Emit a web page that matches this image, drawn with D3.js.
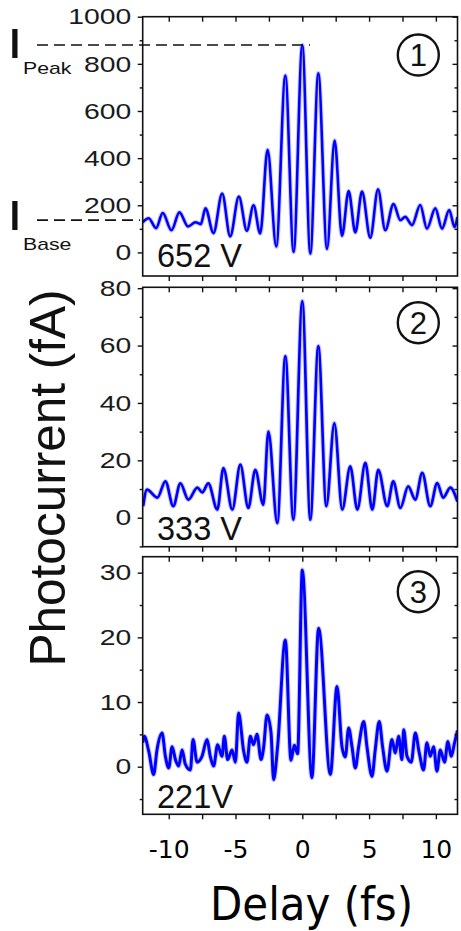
<!DOCTYPE html>
<html><head><meta charset="utf-8">
<script src="https://cdn.jsdelivr.net/npm/d3@7"></script>
<style>body{margin:0;background:#fff;} svg{display:block}</style>
</head><body>
<svg id="c" width="461" height="931"></svg>
<script>
// ---------- data ----------
const delay1 = [-11.95,-11.5,-10.95,-10.45,-9.8,-9.2,-8.55,-8.0,-7.6,-7.25,-6.65,-6.0,-5.4,-4.75,-4.15,-3.65,-3.15,-2.6,-1.95,-1.27,-0.65,0,0.6,1.2,1.85,2.42,2.97,3.47,3.97,4.47,5.09,5.67,6.21,6.83,7.34,7.71,8.21,8.83,9.33,9.96,10.46,11.0,11.4,11.62];
const current1 = [128,145,103,167,94,170,110,128,120,187,82,250,68,237,92,200,80,435,25,750,2,880,-5,760,15,475,70,260,85,258,62,268,94,205,137,151,116,201,101,187,101,180,108,150];

const delay2 = [-11.92,-11.63,-10.85,-10.25,-9.66,-9.13,-8.53,-7.86,-7.49,-7.04,-6.36,-5.91,-5.24,-4.64,-4.04,-3.52,-2.92,-2.54,-1.87,-1.27,-0.67,0,0.6,1.2,1.8,2.4,2.99,3.59,4.12,4.72,5.24,5.69,6.36,6.81,7.34,7.93,8.46,8.98,9.58,10.1,10.55,11.08,11.62];
const current2 = [4,9.8,7,12.7,4,12,6.3,10.5,8.8,12,2.8,17.3,2.8,18.5,3.4,16.7,4.5,30,-1.9,56.3,-0.7,75.5,-0.7,59.8,4,33,2.8,17.9,2.8,19.1,2.8,16.7,4,12.7,3.4,10.9,6.3,15.6,4,12.1,7,10.5,5.6];

const delay3 = [-11.95,-11.83,-11.5,-11.13,-10.88,-10.5,-10.25,-10.0,-9.75,-9.5,-9.26,-9.0,-8.76,-8.38,-8.18,-7.88,-7.51,-7.13,-6.89,-6.64,-6.34,-6.01,-5.84,-5.59,-5.26,-5.01,-4.77,-4.39,-4.14,-3.89,-3.65,-3.39,-3.09,-2.9,-2.64,-2.34,-2.15,-1.85,-1.27,-0.85,-0.6,-0.35,0,0.72,1.22,2.1,2.6,2.97,3.22,3.47,3.72,3.97,4.22,4.6,4.84,5.22,5.46,5.76,6.01,6.34,6.71,6.96,7.21,7.46,7.59,7.84,8.16,8.46,8.76,9.08,9.33,9.58,9.83,10.08,10.33,10.65,10.9,11.15,11.4,11.62];
const current3 = [3.7,4.7,2.4,-1.2,2.6,5.2,1.6,-0.2,3.1,1.1,0.1,2.6,0.4,-0.5,4.2,0.7,1.6,4.2,1.6,0.1,3.4,1.6,4.7,1.1,2.6,0.7,8.3,2.4,0.7,4.7,3.4,5.0,1.1,2.9,8.0,5.2,-2.0,3.1,19.6,1.0,3.3,2.0,30.4,-1.7,21.4,-1.2,12.4,3.1,1.5,6.0,3.1,-0.2,3.1,7.0,3.1,-1.5,2.6,7.0,3.1,-0.7,4.2,2.1,4.7,1.1,5.7,1.6,0.7,5.2,2.1,-0.5,3.7,1.6,3.1,-0.7,2.6,0.7,3.9,1.6,3.7,5.6];

const yTicks1 = [0,200,400,600,800,1000];
const yMinor1 = [100,300,500,700,900];
const yTicks2 = [0,20,40,60,80];
const yMinor2 = [-10,10,30,50,70];
const yTicks3 = [0,10,20,30];
const yMinor3 = [-5,5,15,25];
const xTicks = [-10,-7.5,-5,-2.5,0,2.5,5,7.5,10];
const xLabels = [-10,-5,0,5,10];
const voltages = ["652 V","333 V","221V"];
const panelNumbers = ["1","2","3"];
const peakLevel = 880, baseLevel = 137;

// ---------- layout ----------
const svg = d3.select("#c");
const X0 = 142.7, X1 = 457.5;
const x = d3.scaleLinear().domain([-11.95, 11.62]).range([X0, X1]);

const panels = [
  {delay: delay1, cur: current1, top: 16.7, bottom: 276, domain: [-100, 1000], major: yTicks1, minor: yMinor1, sw: 2.6},
  {delay: delay2, cur: current2, top: 287.3, bottom: 546.7, domain: [-10.1, 80.3], major: yTicks2, minor: yMinor2, sw: 2.7},
  {delay: delay3, cur: current3, top: 556.7, bottom: 814.3, domain: [-7.36, 32.47], major: yTicks3, minor: yMinor3, sw: 3.0}
];

const AX = "Liberation Sans, Arial, sans-serif";

panels.forEach((p, i) => {
  const y = d3.scaleLinear().domain(p.domain).range([p.bottom, p.top]);
  p.y = y;
  const clipId = "clip" + i;
  svg.append("clipPath").attr("id", clipId).append("rect")
    .attr("x", X0).attr("y", p.top).attr("width", X1 - X0).attr("height", p.bottom - p.top);

  const pts = p.delay.map((d, k) => [d, p.cur[k]]);
  const line = d3.line().x(d => x(d[0])).y(d => y(d[1])).curve(d3.curveMonotoneX);
  const g = svg.append("g").attr("clip-path", `url(#${clipId})`);
  g.append("path").datum(pts).attr("d", line)
    .attr("fill", "none").attr("stroke", "#5050ff").attr("stroke-opacity", 0.3)
    .attr("stroke-width", p.sw + 2).attr("stroke-linejoin", "round");
  g.append("path").datum(pts).attr("d", line)
    .attr("fill", "none").attr("stroke", "#0000ff")
    .attr("stroke-width", p.sw).attr("stroke-linejoin", "round");

  // frame
  svg.append("rect").attr("x", X0).attr("y", p.top).attr("width", X1 - X0).attr("height", p.bottom - p.top)
    .attr("fill", "none").attr("stroke", "#111").attr("stroke-width", 1.6);

  const styleAxis = sel => {
    sel.select(".domain").remove();
    sel.selectAll(".tick line").attr("stroke", "#111").attr("stroke-width", 1.4);
  };

  // left major with labels
  const left = svg.append("g").attr("transform", `translate(${X0},0)`)
    .call(d3.axisLeft(y).tickValues(p.major).tickSize(5).tickPadding(5).tickFormat(d3.format("d")));
  styleAxis(left);
  left.selectAll(".tick text").attr("font-family", AX).attr("font-size", 22.5).attr("fill", "#1a1a1a")
    .attr("x", -9).attr("transform", "scale(1.26,1)");
  // left minor
  const leftMin = svg.append("g").attr("transform", `translate(${X0},0)`)
    .call(d3.axisLeft(y).tickValues(p.minor.filter(v => v > p.domain[0])).tickSize(3).tickFormat(""));
  styleAxis(leftMin);
  // right inward ticks
  const right = svg.append("g").attr("transform", `translate(${X1},0)`)
    .call(d3.axisLeft(y).tickValues(p.major).tickSize(5).tickFormat(""));
  styleAxis(right);
  const rightMin = svg.append("g").attr("transform", `translate(${X1},0)`)
    .call(d3.axisLeft(y).tickValues(p.minor.filter(v => v > p.domain[0])).tickSize(3).tickFormat(""));
  styleAxis(rightMin);
  // top inward ticks
  const topAx = svg.append("g").attr("transform", `translate(0,${p.top})`)
    .call(d3.axisBottom(x).tickValues(xTicks).tickSize(5).tickFormat(""));
  styleAxis(topAx);
  // bottom outward ticks
  const botAx = svg.append("g").attr("transform", `translate(0,${p.bottom})`)
    .call(d3.axisBottom(x).tickValues(xTicks).tickSize(5).tickFormat(""));
  styleAxis(botAx);

  // voltage label
  const vy = [267, 540, 808][i];
  svg.append("text").attr("x", 157).attr("y", vy).text(voltages[i])
    .attr("font-family", AX).attr("font-size", 32.5).attr("fill", "#111");

  // circled number
  const cy = [55, 322.7, 591.7][i];
  svg.append("circle").attr("cx", 418.3).attr("cy", cy).attr("r", 20.5)
    .attr("fill", "none").attr("stroke", "#111").attr("stroke-width", 2.4);
  svg.append("text").attr("x", 418.3).attr("y", cy + 11).attr("text-anchor", "middle")
    .text(panelNumbers[i]).attr("font-family", AX).attr("font-size", 31).attr("fill", "#111");
});

// x tick labels for bottom panel
const xl = svg.append("g").attr("transform", `translate(0,${panels[2].bottom})`)
  .call(d3.axisBottom(x).tickValues(xLabels).tickSize(0).tickPadding(26).tickFormat(d => String(d)));
xl.select(".domain").remove();
xl.selectAll(".tick text").attr("font-family", "DejaVu Sans, Verdana, sans-serif").attr("font-size", 25).attr("fill", "#000");

// dashed reference lines (panel 1)
const y1 = panels[0].y;
svg.append("line").attr("x1", 37).attr("x2", 310).attr("y1", y1(peakLevel)).attr("y2", y1(peakLevel))
  .attr("stroke", "#111").attr("stroke-width", 1.6).attr("stroke-dasharray", "11,6");
svg.append("line").attr("x1", 37).attr("x2", 140).attr("y1", y1(baseLevel)).attr("y2", y1(baseLevel))
  .attr("stroke", "#111").attr("stroke-width", 1.6).attr("stroke-dasharray", "11,6");

// I_Peak / I_Base labels
[[58, 74, "Peak"], [230, 250, "Base"]].forEach(([yi, ys, sub]) => {
  svg.append("text").attr("transform", `translate(7,${yi}) scale(1.35,1)`).text("I")
    .attr("font-family", AX).attr("font-size", 42).attr("fill", "#111");
  svg.append("text").attr("transform", `translate(23,${ys}) scale(1.25,1)`).text(sub)
    .attr("font-family", AX).attr("font-size", 17).attr("fill", "#111");
});

// axis titles
svg.append("text").attr("transform", "translate(65,478) rotate(-90)").attr("text-anchor", "middle")
  .attr("font-family", AX).attr("font-size", 50).attr("fill", "#111")
  .attr("textLength", 377).attr("lengthAdjust", "spacingAndGlyphs").text("Photocurrent (fA)");
svg.append("text").attr("x", 311.5).attr("y", 920).attr("text-anchor", "middle")
  .attr("font-family", "DejaVu Sans Condensed, DejaVu Sans, sans-serif").attr("font-size", 47).attr("fill", "#000")
  .attr("textLength", 203).attr("lengthAdjust", "spacingAndGlyphs").text("Delay (fs)");
</script>
</body></html>
